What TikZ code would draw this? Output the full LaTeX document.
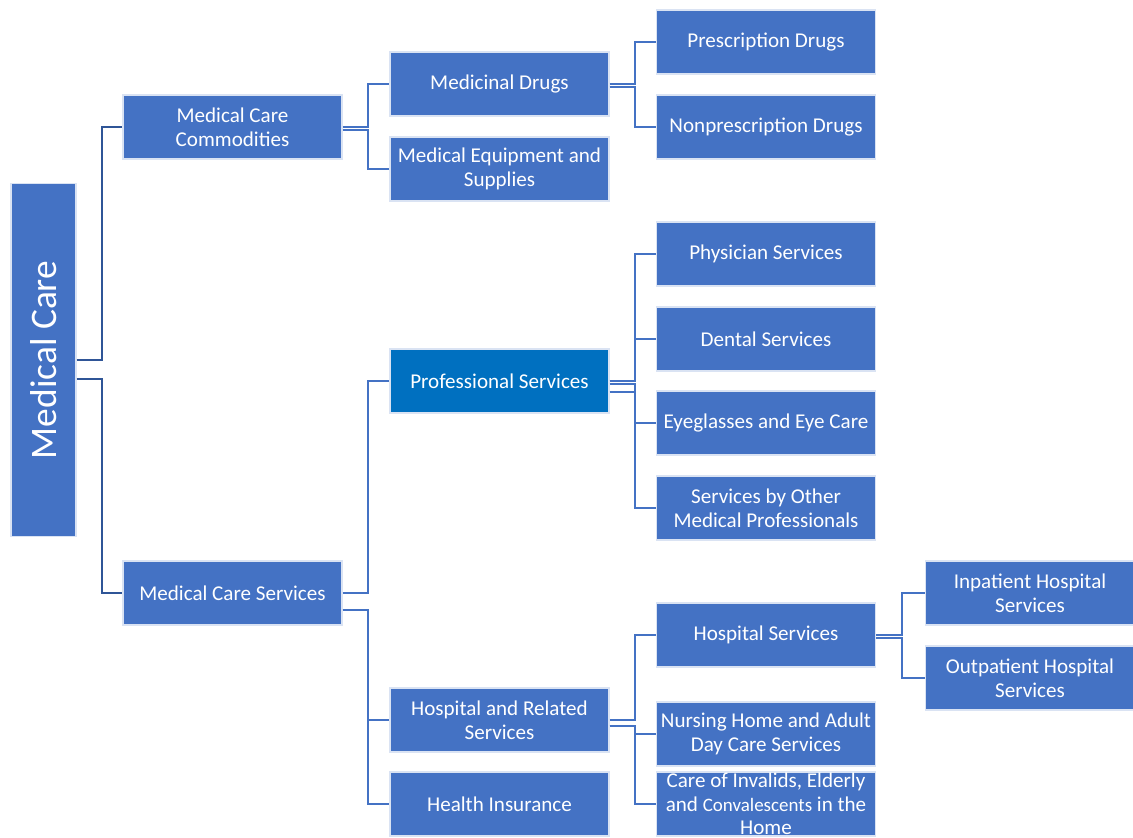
\documentclass[tikz,border=0pt]{standalone}
\usepackage{fontspec}
\setmainfont{Carlito}
\usetikzlibrary{positioning}
\definecolor{boxblue}{HTML}{4472C4}
\definecolor{profblue}{HTML}{0070C0}
\definecolor{linkblue}{HTML}{4472C4}
\definecolor{rootlink}{HTML}{2F5597}

\begin{document}
\begin{tikzpicture}[x=0.02cm, y=-0.02cm]
	% Styles for the boxes and the elbow links
	\tikzset{
		box/.style={fill=boxblue, draw=white!80!boxblue, line width=0.6pt, text=white,
			minimum width=4.38cm, minimum height=1.28cm, inner sep=1pt,
			align=center, font=\fontsize{12}{13.6}\selectfont},
		wide box/.style={box, minimum width=4.2cm},
		root box/.style={box, minimum width=1.3cm, minimum height=7.08cm,
			font=\fontsize{21.3}{24}\selectfont},
		link/.style={draw=linkblue, line width=1.35pt},
		root link/.style={draw=rootlink, line width=1.5pt}
	}
	\useasboundingbox (0,0) rectangle (1133,838);

	% Vertical bars of the brackets
	\coordinate (bar root) at (102,0);
	\coordinate (bar mid) at (368,0);
	\coordinate (bar right) at (635,0);
	\coordinate (bar far) at (902,0);

	% Level 0
	\node[root box] (root) at (43.5,360) {\rotatebox{90}{Medical Care}};

	% Level 1
	\node[box] (comm) at (232.5,127) {Medical Care\\Commodities};
	\node[box] (serv) at (232.5,593) {Medical Care Services};

	% Level 2
	\node[box] (medd) at (499.5,84) {Medicinal Drugs};
	\node[box] (equip) at (499.5,169) {Medical Equipment and\\Supplies};
	\node[box, fill=profblue] (prof) at (499.5,381) {Professional Services};
	\node[box] (hosprel) at (499.5,720) {Hospital and Related\\Services};
	\node[box] (insur) at (499.5,804) {Health Insurance};

	% Level 3
	\node[box] (presc) at (766,42) {Prescription Drugs};
	\node[box] (nonpresc) at (766,127) {Nonprescription Drugs};
	\node[box] (phys) at (766,254) {Physician Services};
	\node[box] (dental) at (766,339) {Dental Services};
	\node[box] (eye) at (766,423) {Eyeglasses and Eye Care};
	\node[box] (other) at (766,508) {Services by Other\\Medical Professionals};
	\node[box] (hosps) at (766,635) {Hospital Services};
	\node[box] (nursing) at (766,734) {Nursing Home and Adult\\Day Care Services};
	\node[box] (care) at (766,804) {};
	\node[text=white, align=center, font=\fontsize{12}{13.3}\selectfont] (care text) at (766,804)
		{Care of Invalids, Elderly\\and {\fontsize{10.8}{13.3}\selectfont Convalescents} in the\\Home};

	% Level 4
	\node[wide box] (inpat) at (1030,593) {Inpatient Hospital\\Services};
	\node[wide box] (outpat) at (1030,678) {Outpatient Hospital\\Services};

	% Root links
	\draw[root link] (root.east) -| (bar root |- comm.west) -- (comm.west);
	\draw[root link] ([yshift=-10.8pt]root.east) -| (bar root |- serv.west) -- (serv.west);

	% Commodities links
	\draw[link] (comm.east) -| (bar mid |- medd.west) -- (medd.west);
	\draw[link] ([yshift=-1.8pt]comm.east) -| (bar mid |- equip.west) -- (equip.west);

	% Services links
	\draw[link] (serv.east) -| (bar mid |- prof.west) -- (prof.west);
	\draw[link] ([yshift=-9.6pt]serv.east) -| (bar mid |- hosprel.west) -- (hosprel.west);
	\draw[link] ([yshift=-9.6pt]serv.east) -| (bar mid |- insur.west) -- (insur.west);

	% Medicinal drugs links
	\draw[link] (medd.east) -| (bar right |- presc.west) -- (presc.west);
	\draw[link] ([yshift=-1.8pt]medd.east) -| (bar right |- nonpresc.west) -- (nonpresc.west);

	% Professional services links
	\draw[link] (prof.east) -| (bar right |- phys.west) -- (phys.west);
	\draw[link] (prof.east) -| (bar right |- dental.west) -- (dental.west);
	\draw[link] ([yshift=-1.8pt]prof.east) -| (bar right |- eye.west) -- (eye.west);
	\draw[link] ([yshift=-6.3pt]prof.east) -| (bar right |- other.west) -- (other.west);

	% Hospital and related links
	\draw[link] (hosprel.east) -| (bar right |- hosps.west) -- (hosps.west);
	\draw[link] ([yshift=-3.4pt]hosprel.east) -| (bar right |- nursing.west) -- (nursing.west);
	\draw[link] ([yshift=-3.4pt]hosprel.east) -| (bar right |- care.west) -- (care.west);

	% Hospital services links
	\draw[link] (hosps.east) -| (bar far |- inpat.west) -- (inpat.west);
	\draw[link] ([yshift=-1.8pt]hosps.east) -| (bar far |- outpat.west) -- (outpat.west);
\end{tikzpicture}
\end{document}
